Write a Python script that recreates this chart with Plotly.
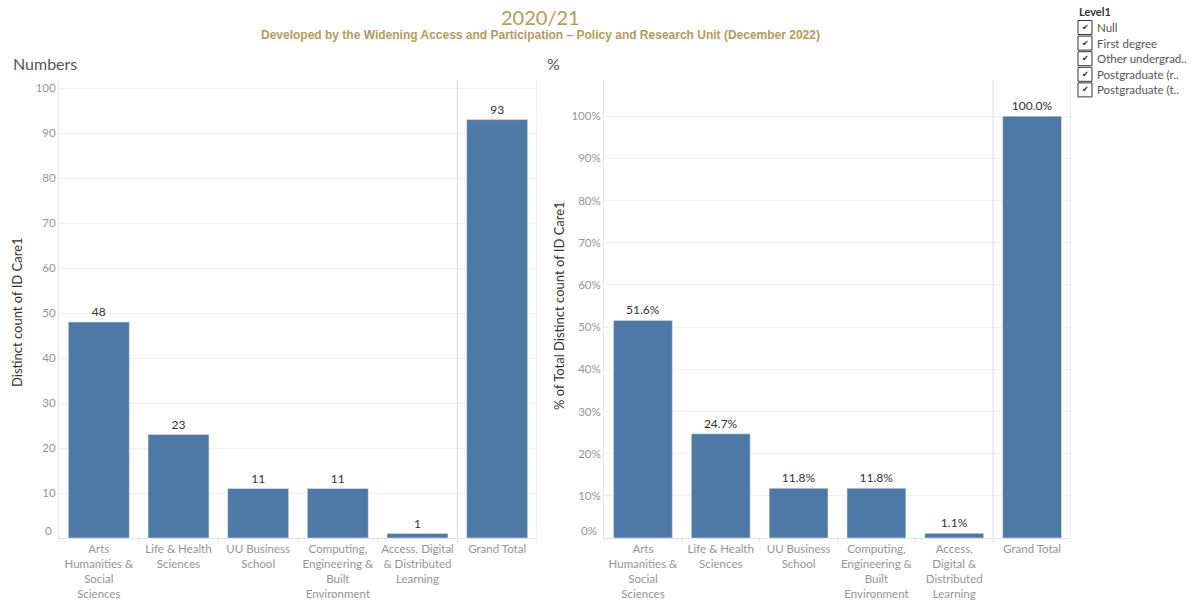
import plotly.graph_objects as go

categories = ["Arts<br>Humanities &<br>Social<br>Sciences", "Life & Health<br>Sciences", "UU Business<br>School",
              "Computing,<br>Engineering &<br>Built<br>Environment", "Access, Digital<br>& Distributed<br>Learning", "Grand Total"]
categories_pct = ["Arts<br>Humanities &<br>Social<br>Sciences", "Life & Health<br>Sciences", "UU Business<br>School",
                  "Computing,<br>Engineering &<br>Built<br>Environment", "Access,<br>Digital &<br>Distributed<br>Learning", "Grand Total"]
numbers = [48, 23, 11, 11, 1, 93]
percents = [51.6, 24.7, 11.8, 11.8, 1.1, 100.0]
num_ticks = [10, 20, 30, 40, 50, 60, 70, 80, 90, 100]
pct_ticks = [10, 20, 30, 40, 50, 60, 70, 80, 90, 100]
legend_title = "Level1"
legend_items = ["Null", "First degree", "Other undergrad..", "Postgraduate (r..", "Postgraduate (t.."]

W, H = 1194, 603
BLUE = "#4e79a7"
GOLD = "#b89a5a"
FONT = "Lato"
GRID = "#f0f0f0"
TICK = "#959595"
TS = 11.5

def px_x(p):
    return p / W

def px_y(p):
    return 1 - p / H

fig = go.Figure()
fig.add_trace(go.Bar(x=list(range(6)), y=numbers, marker_color=BLUE, text=[str(v) for v in numbers],
                     textposition="outside", textfont=dict(size=12, color="#333333", family=FONT),
                     cliponaxis=False, width=0.765, xaxis="x", yaxis="y", showlegend=False, hoverinfo="skip"))
fig.add_trace(go.Bar(x=list(range(6)), y=percents, marker_color=BLUE, text=[f"{v:.1f}%" for v in percents],
                     textposition="outside", textfont=dict(size=12, color="#333333", family=FONT),
                     cliponaxis=False, width=0.756, xaxis="x2", yaxis="y2", showlegend=False, hoverinfo="skip"))

xcommon = dict(showgrid=False, zeroline=False, showline=True, linecolor="#e2e2e2", linewidth=1,
               tickfont=dict(size=TS, color=TICK, family=FONT), ticks="", range=[-0.5, 5.5], fixedrange=True)
ycommon = dict(showgrid=True, gridcolor=GRID, gridwidth=1, zeroline=False, showline=True, linecolor="#e8e8e8",
               tickfont=dict(size=TS, color=TICK, family=FONT), ticks="", fixedrange=True)

fig.update_layout(
    width=W, height=H, margin=dict(l=0, r=0, t=0, b=0),
    plot_bgcolor="white", paper_bgcolor="white",
    font=dict(family=FONT),
    xaxis=dict(domain=[px_x(59), px_x(537)], anchor="y", tickvals=list(range(6)), ticktext=categories, **xcommon),
    yaxis=dict(domain=[px_y(538), px_y(80)], anchor="x", range=[0, 101.8], tickvals=num_ticks,
               ticktext=[str(t) for t in num_ticks], **ycommon),
    xaxis2=dict(domain=[px_x(604), px_x(1071)], anchor="y2", tickvals=list(range(6)), ticktext=categories_pct, **xcommon),
    yaxis2=dict(domain=[px_y(538), px_y(80)], anchor="x2", range=[0, 108.6], tickvals=pct_ticks,
                ticktext=[f"{t}%" for t in pct_ticks], **ycommon),
)

shapes = []
for xr, yr in [("x", "y"), ("x2", "y2")]:
    for xv in [4.5, 5.5]:
        shapes.append(dict(type="line", xref=xr, yref=f"{yr} domain", x0=xv, x1=xv, y0=0, y1=1,
                           line=dict(color="#dcdcdc", width=1)))
    for xv in [-0.5, 0.5, 1.5, 2.5, 3.5, 4.5, 5.5]:
        shapes.append(dict(type="line", xref=xr, yref="paper", x0=xv, x1=xv, y0=px_y(538), y1=px_y(543),
                           line=dict(color="#e2e2e2", width=1)))

anns = []
anns.append(dict(text="0", xref="paper", yref="y", x=px_x(54), y=0, yshift=8, xanchor="right", yanchor="middle",
                 showarrow=False, font=dict(size=TS, color=TICK, family=FONT)))
anns.append(dict(text="0%", xref="paper", yref="y2", x=px_x(599), y=0, yshift=8, xanchor="right", yanchor="middle",
                 showarrow=False, font=dict(size=TS, color=TICK, family=FONT)))
anns.append(dict(text="2020/21", xref="paper", yref="paper", x=px_x(540), y=px_y(17), xanchor="center", yanchor="middle",
                 showarrow=False, font=dict(size=20, color=GOLD, family=FONT)))
anns.append(dict(text="<b>Developed by the Widening Access and Participation \u2013 Policy and Research Unit (December 2022)</b>",
                 xref="paper", yref="paper", x=px_x(540), y=px_y(35), xanchor="center", yanchor="middle",
                 showarrow=False, font=dict(size=12, color=GOLD, family="Liberation Sans")))
anns.append(dict(text="Numbers", xref="paper", yref="paper", x=px_x(11), y=px_y(64), xanchor="left", yanchor="middle",
                 showarrow=False, font=dict(size=16, color="#555555", family=FONT)))
anns.append(dict(text="%", xref="paper", yref="paper", x=px_x(545), y=px_y(64), xanchor="left", yanchor="middle",
                 showarrow=False, font=dict(size=16, color="#555555", family=FONT)))
anns.append(dict(text="Distinct count of ID Care1", xref="paper", yref="paper", x=px_x(17), y=px_y(312),
                 xanchor="center", yanchor="middle", textangle=-90, showarrow=False,
                 font=dict(size=13, color="#333333", family=FONT)))
anns.append(dict(text="% of Total Distinct count of ID Care1", xref="paper", yref="paper", x=px_x(559), y=px_y(306),
                 xanchor="center", yanchor="middle", textangle=-90, showarrow=False,
                 font=dict(size=13, color="#333333", family=FONT)))
anns.append(dict(text="<b>" + legend_title + "</b>", xref="paper", yref="paper", x=px_x(1077), y=px_y(11),
                 xanchor="left", yanchor="middle", showarrow=False, font=dict(size=11, color="#333333", family=FONT)))
for i, item in enumerate(legend_items):
    yc = 27.5 + i * 15.6
    shapes.append(dict(type="rect", xref="paper", yref="paper", x0=px_x(1078), x1=px_x(1092),
                       y0=px_y(yc + 7), y1=px_y(yc - 7), line=dict(color="#333333", width=1), fillcolor="white"))
    anns.append(dict(text="\u2714", xref="paper", yref="paper", x=px_x(1085), y=px_y(yc), xanchor="center",
                     yanchor="middle", showarrow=False, font=dict(size=8, color="#222222", family="DejaVu Sans")))
    anns.append(dict(text=item, xref="paper", yref="paper", x=px_x(1095), y=px_y(yc), xanchor="left",
                     yanchor="middle", showarrow=False, font=dict(size=TS, color="#555555", family=FONT)))

fig.update_layout(shapes=shapes, annotations=anns)
fig.write_html("out.html", config={"displayModeBar": False},
               post_script="document.body.style.margin='0';document.body.style.overflow='hidden';")
